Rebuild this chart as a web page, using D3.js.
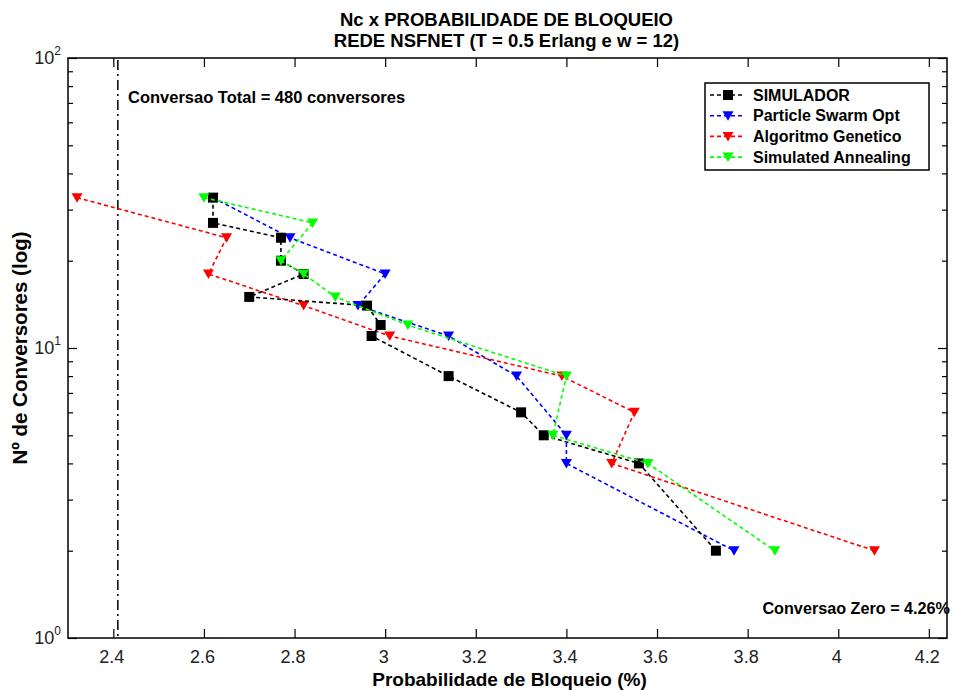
<!DOCTYPE html>
<html><head><meta charset="utf-8">
<script src="https://cdn.jsdelivr.net/npm/d3@7"></script>
<style>body{margin:0;background:#fff}svg{display:block}text{font-family:Arial,"Liberation Sans",sans-serif}</style>
</head><body><div id="chart"></div>
<script>
// ---- data ----
const seriesNames = ["SIMULADOR","Particle Swarm Opt","Algoritmo Genetico","Simulated Annealing"];
const simX = [2.62,2.62,2.77,2.77,2.82,2.70,2.96,2.99,2.97,3.14,3.30,3.35,3.56,3.73];
const simY = [33,27,24,20,18,15,14,12,11,8,6,5,4,2];
const psoX = [2.62,2.79,3.00,2.94,3.14,3.29,3.40,3.40,3.77];
const psoY = [33,24,18,14,11,8,5,4,2];
const gaX  = [2.32,2.65,2.61,2.82,3.01,3.39,3.55,3.50,4.08];
const gaY  = [33,24,18,14,11,8,6,4,2];
const saX  = [2.60,2.84,2.77,2.82,2.89,3.05,3.40,3.37,3.58,3.86];
const saY  = [33,27,20,18,15,12,8,5,4,2];
const xTicks = [2.4,2.6,2.8,3,3.2,3.4,3.6,3.8,4,4.2];
const xTickLabels = ["2.4","2.6","2.8","3","3.2","3.4","3.6","3.8","4","4.2"];
const yMajor = [1,10,100];
const yMajorExp = ["0","1","2"];
const yMinor = [2,3,4,5,6,7,8,9,20,30,40,50,60,70,80,90];
const totalConvX = 2.41;
const titleLines = ["Nc x PROBABILIDADE DE BLOQUEIO","REDE NSFNET (T = 0.5 Erlang e w = 12)"];
const xLabel = "Probabilidade de Bloqueio (%)";
const yLabel = "Nº de Conversores (log)";
const noteTotal = "Conversao Total = 480 conversores";
const noteZero = "Conversao Zero = 4.26%";

const W=956,H=690;
const m={l:68,r:947,t:58,b:638};
const svg=d3.select("#chart").append("svg").attr("width",W).attr("height",H);
const x=d3.scaleLinear().domain([2.3,4.24]).range([m.l,m.r]);
const y=d3.scaleLog().domain([1,100]).range([m.b,m.t]);

const series=[
 {name:seriesNames[1],xs:psoX,ys:psoY,color:"#0000ff",marker:"tri"},
 {name:seriesNames[2],xs:gaX,ys:gaY,color:"#ff0000",marker:"tri"},
 {name:seriesNames[0],xs:simX,ys:simY,color:"#000000",marker:"sq"},
 {name:seriesNames[3],xs:saX,ys:saY,color:"#00ff00",marker:"tri"}
];
const legendOrder=[2,0,1,3];

// titles
svg.selectAll("text.title").data(titleLines).join("text").attr("class","title")
  .attr("x",(m.l+m.r)/2-1).attr("y",(d,i)=>26+i*21).attr("text-anchor","middle")
  .style("font-weight","bold").style("font-size","18.5px").text(d=>d);

// axes
const g=svg.append("g");
g.append("rect").attr("x",m.l).attr("y",m.t).attr("width",m.r-m.l).attr("height",m.b-m.t)
 .attr("fill","none").attr("stroke","#000").attr("stroke-width",1.5);

const ax=(gen,tr)=>{const s=g.append("g").attr("transform",tr).call(gen);s.select(".domain").remove();s.selectAll("line").attr("stroke","#000").attr("stroke-width",1.2);return s;};
const bx=ax(d3.axisBottom(x).tickValues(xTicks).tickSizeInner(-9).tickSizeOuter(0).tickPadding(12).tickFormat((d,i)=>xTickLabels[i]),`translate(0,${m.b})`);
bx.selectAll("text").attr("dx",-2).style("font-size","18px").style("font-family","Arial,'Liberation Sans',sans-serif").attr("fill","#222");
ax(d3.axisTop(x).tickValues(xTicks).tickSizeInner(-9).tickSizeOuter(0).tickFormat(""),`translate(0,${m.t})`);
ax(d3.axisLeft(y).tickValues(yMajor).tickSizeInner(-9).tickSizeOuter(0).tickFormat(""),`translate(${m.l},0)`);
ax(d3.axisLeft(y).tickValues(yMinor).tickSizeInner(-5).tickSizeOuter(0).tickFormat(""),`translate(${m.l},0)`);
ax(d3.axisRight(y).tickValues(yMajor).tickSizeInner(-9).tickSizeOuter(0).tickFormat(""),`translate(${m.r},0)`);
ax(d3.axisRight(y).tickValues(yMinor).tickSizeInner(-5).tickSizeOuter(0).tickFormat(""),`translate(${m.r},0)`);

// y tick labels 10^n
const yl=g.selectAll("text.ylab").data(yMajor).join("text").attr("class","ylab")
 .attr("x",m.l-7).attr("y",d=>y(d)+6).attr("text-anchor","end").attr("fill","#222").style("font-size","18px");
yl.append("tspan").text("10");
yl.append("tspan").attr("dy",-9).style("font-size","12px").text((d,i)=>yMajorExp[i]);

// axis labels
svg.append("text").attr("x",(m.l+m.r)/2+2).attr("y",686).attr("text-anchor","middle")
 .style("font-weight","bold").style("font-size","19px").text(xLabel);
svg.append("text").attr("transform",`translate(27,${(m.t+m.b)/2}) rotate(-90)`).attr("text-anchor","middle")
 .style("font-weight","bold").style("font-size","20.5px").text(yLabel);

// vertical dash-dot line
svg.append("line").attr("x1",x(totalConvX)).attr("x2",x(totalConvX)).attr("y1",m.t+2).attr("y2",m.b)
 .attr("stroke","#000").attr("stroke-width",1.5).attr("stroke-dasharray","10,4,2,4");

// annotations
svg.append("text").attr("x",128).attr("y",103).style("font-weight","bold").style("font-size","16.5px").text(noteTotal);
svg.append("text").attr("x",950).attr("y",614).attr("text-anchor","end").style("font-weight","bold").style("font-size","16.2px").text(noteZero);

// markers
const tri="M-5.5,-4.5L5.5,-4.5L0,5Z", sq="M-5,-5H5V5H-5Z";
const line=d3.line().x(d=>x(d[0])).y(d=>y(d[1]));
const plot=svg.append("g");
series.forEach(s=>{
  const pts=s.xs.map((v,i)=>[v,s.ys[i]]);
  const sg=plot.append("g");
  sg.append("path").datum(pts).attr("d",line).attr("fill","none").attr("stroke",s.color)
    .attr("stroke-width",1.6).attr("stroke-dasharray","4,3");
  sg.selectAll("path.mk").data(pts).join("path").attr("class","mk")
    .attr("transform",d=>`translate(${x(d[0])},${y(d[1])})`).attr("d",s.marker==="sq"?sq:tri).attr("fill",s.color);
});

// legend
const lg=svg.append("g");
lg.append("rect").attr("x",705).attr("y",83).attr("width",224).attr("height",87).attr("fill","#fff").attr("stroke","#000").attr("stroke-width",1.5);
legendOrder.forEach((si,k)=>{
  const s=series[si], yy=95+k*20.7;
  lg.append("line").attr("x1",710).attr("x2",745).attr("y1",yy).attr("y2",yy).attr("stroke",s.color).attr("stroke-width",1.6).attr("stroke-dasharray","4,3");
  lg.append("path").attr("transform",`translate(728,${yy})`).attr("d",s.marker==="sq"?sq:tri).attr("fill",s.color);
  lg.append("text").attr("x",753).attr("y",yy+5.5).style("font-weight","bold").style("font-size","16px").text(s.name);
});
</script></body></html>
